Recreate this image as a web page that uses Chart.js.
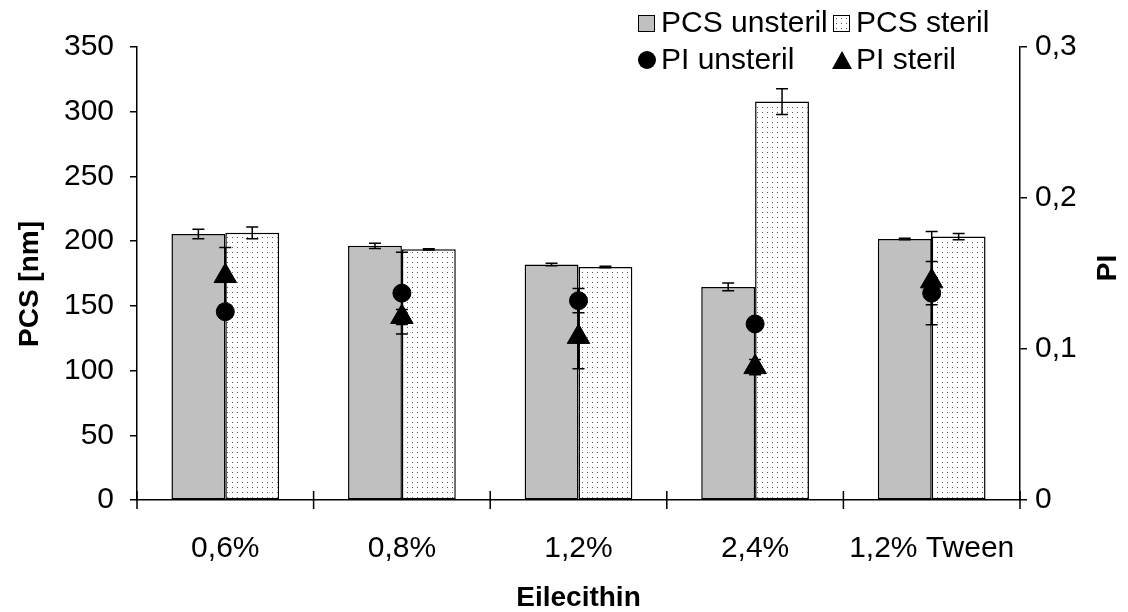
<!DOCTYPE html>
<html>
<head>
<meta charset="utf-8">
<script src="https://cdn.jsdelivr.net/npm/chart.js@4"></script>
<style>
  html, body { margin: 0; padding: 0; background: #fff; }
  #wrap { position: relative; width: 1128px; height: 612px; font-family: "Liberation Sans", Arial, sans-serif; }
  #chart { position: absolute; left: 0; top: 0; }
  .lg-text { position: absolute; font-size: 30px; line-height: 34px; color: #000; white-space: nowrap; }
  .lg-box { position: absolute; width: 15px; height: 15px; border: 1.5px solid #000; }
  .lg-dot { position: absolute; width: 18px; height: 18px; border-radius: 50%; background: #000; }
  .lg-tri { position: absolute; width: 0; height: 0; border-left: 10px solid transparent; border-right: 10px solid transparent; border-bottom: 18px solid #000; }
</style>
</head>
<body>
<div id="wrap">
  <canvas id="chart" width="1128" height="612"></canvas>
  <div class="lg-box" style="left:638px; top:15px; background:#c0c0c0;"></div>
  <div class="lg-text" style="left:661px; top:5px;">PCS unsteril</div>
  <div class="lg-box" id="steril-box" style="left:833px; top:15px; background:#fff;"></div>
  <div class="lg-text" style="left:856px; top:5px;">PCS steril</div>
  <div class="lg-dot" style="left:638px; top:51px;"></div>
  <div class="lg-text" style="left:661px; top:42px;">PI unsteril</div>
  <div class="lg-tri" style="left:832px; top:51px;"></div>
  <div class="lg-text" style="left:856px; top:42px;">PI steril</div>
</div>
<script>
const categories = ["0,6%", "0,8%", "1,2%", "2,4%", "1,2% Tween"];

// particle size (nm) with standard deviation
const pcsUnsteril = [205.5, 196.4, 182, 164.6, 201.7];
const pcsUnsterilErr = [3.7, 2, 1, 3, 0.6];
const pcsSteril = [206.4, 193.7, 180, 307.8, 203.5];
const pcsSterilErr = [4.5, 0.5, 0.6, 10, 2.4];

// polydispersity index, errors as [minus, plus]
const piUnsteril = [0.1247, 0.137, 0.132, 0.1166, 0.137];
const piUnsterilErr = [[0.004, 0.004], [0.027, 0.027], [0.008, 0.008], [0.004, 0.004], [0.021, 0.021]];
const piSteril = [0.1483, 0.1212, 0.108, 0.088, 0.1448];
const piSterilErr = [[0.019, 0.019], [0.005, 0.005], [0.021, 0.021], [0.005, 0.005], [0.0155, 0.033]];

const pcsTicks = { min: 0, max: 350, step: 50 };
const piTicks = { min: 0, max: 0.3, step: 0.1 };

const FONT = "'Liberation Sans', Arial, sans-serif";

// small dotted fill used for the sterile bars
function makeDotPattern() {
  const c = document.createElement("canvas");
  c.width = 5;
  c.height = 5;
  const g = c.getContext("2d");
  g.fillStyle = "#fff";
  g.fillRect(0, 0, 5, 5);
  g.fillStyle = "#555";
  g.fillRect(2, 2, 1, 1);
  return c;
}
const patternCanvas = makeDotPattern();
const ctx = document.getElementById("chart").getContext("2d");
const dotPattern = ctx.createPattern(patternCanvas, "repeat");
document.getElementById("steril-box").style.backgroundImage = "url(" + patternCanvas.toDataURL() + ")";

const errorSets = [pcsUnsterilErr, pcsSterilErr, piUnsterilErr, piSterilErr];

const errorBars = {
  id: "errorBars",
  afterDatasetDraw(chart, args) {
    const errs = errorSets[args.index];
    if (!errs) return;
    const meta = args.meta;
    const scale = chart.scales[meta.yAxisID];
    const values = chart.data.datasets[args.index].data;
    const c = chart.ctx;
    c.save();
    c.strokeStyle = "#000";
    c.lineWidth = 1.5;
    meta.data.forEach((el, i) => {
      const e = errs[i];
      const minus = Array.isArray(e) ? e[0] : e;
      const plus = Array.isArray(e) ? e[1] : e;
      const yHi = scale.getPixelForValue(values[i] + plus);
      const yLo = scale.getPixelForValue(values[i] - minus);
      const x = el.x;
      c.beginPath();
      c.moveTo(x, yHi);
      c.lineTo(x, yLo);
      c.moveTo(x - 6, yHi);
      c.lineTo(x + 6, yHi);
      c.moveTo(x - 6, yLo);
      c.lineTo(x + 6, yLo);
      c.stroke();
    });
    c.restore();
  }
};

function drawVerticalTitle(c, text, x, y) {
  c.save();
  c.fillStyle = "#000";
  c.font = "bold 28px " + FONT;
  c.textAlign = "center";
  c.textBaseline = "middle";
  c.translate(x, y);
  c.rotate(-Math.PI / 2);
  c.fillText(text, 0, 0);
  c.restore();
}

// category boundary ticks crossing the x axis, plus both axis titles at the sides
const axisExtras = {
  id: "axisExtras",
  afterDraw(chart) {
    const c = chart.ctx;
    const xs = chart.scales.x;
    const n = categories.length;
    c.save();
    c.strokeStyle = "#000";
    c.lineWidth = 1.5;
    c.beginPath();
    for (let i = 0; i <= n; i++) {
      const x = xs.left + (xs.width * i) / n;
      c.moveTo(x, xs.top - 9);
      c.lineTo(x, xs.top + 9);
    }
    c.stroke();
    c.restore();

    drawVerticalTitle(c, "PCS [nm]", 30, 284);
    drawVerticalTitle(c, "PI", 1108, 268);
  }
};

new Chart(ctx, {
  type: "bar",
  data: {
    labels: categories,
    datasets: [
      {
        label: "PCS unsteril",
        data: pcsUnsteril,
        backgroundColor: "#c0c0c0",
        borderColor: "#000",
        borderWidth: 1.5,
        borderSkipped: false,
        yAxisID: "y",
        order: 2,
      },
      {
        label: "PCS steril",
        data: pcsSteril,
        backgroundColor: dotPattern,
        borderColor: "#000",
        borderWidth: 1.5,
        borderSkipped: false,
        yAxisID: "y",
        order: 2,
      },
      {
        type: "line",
        label: "PI unsteril",
        data: piUnsteril,
        showLine: false,
        pointStyle: "circle",
        pointRadius: 9,
        pointBackgroundColor: "#000",
        pointBorderColor: "#000",
        pointBorderWidth: 1,
        yAxisID: "y1",
        order: 1,
      },
      {
        type: "line",
        label: "PI steril",
        data: piSteril,
        showLine: false,
        pointStyle: "triangle",
        pointRadius: 13,
        pointBackgroundColor: "#000",
        pointBorderColor: "#000",
        pointBorderWidth: 1,
        yAxisID: "y1",
        order: 0,
      },
    ],
  },
  options: {
    responsive: false,
    animation: false,
    layout: { padding: { top: 47, left: 0, right: 0, bottom: 0 } },
    datasets: {
      bar: { barPercentage: 1, categoryPercentage: 0.61 },
    },
    plugins: {
      legend: { display: false },
      tooltip: { enabled: false },
    },
    scales: {
      x: {
        grid: { display: false, drawTicks: false },
        border: { color: "#000", width: 1.5 },
        ticks: { color: "#000", font: { family: FONT, size: 30 }, padding: 31, maxRotation: 0 },
        title: {
          display: true,
          text: "Eilecithin",
          color: "#000",
          font: { family: FONT, size: 28, weight: "bold", lineHeight: 1 },
          padding: { top: 0, bottom: 0 },
        },
        afterFit: (scale) => { scale.height = 112; },
      },
      y: {
        position: "left",
        min: pcsTicks.min,
        max: pcsTicks.max,
        grid: { drawOnChartArea: false, color: "#000", lineWidth: 1.5, tickLength: 7 },
        border: { color: "#000", width: 1.5 },
        ticks: { stepSize: pcsTicks.step, color: "#000", font: { family: FONT, size: 30 }, padding: 16 },
        afterFit: (scale) => { scale.width = 137; },
      },
      y1: {
        position: "right",
        min: piTicks.min,
        max: piTicks.max,
        grid: { drawOnChartArea: false, color: "#000", lineWidth: 1.5, tickLength: 7 },
        border: { color: "#000", width: 1.5 },
        ticks: {
          stepSize: piTicks.step,
          color: "#000",
          font: { family: FONT, size: 30 },
          padding: 8,
          callback: (v) => (v === 0 ? "0" : v.toFixed(1).replace(".", ",")),
        },
        afterFit: (scale) => { scale.width = 108; },
      },
    },
  },
  plugins: [errorBars, axisExtras],
});
</script>
</body>
</html>
